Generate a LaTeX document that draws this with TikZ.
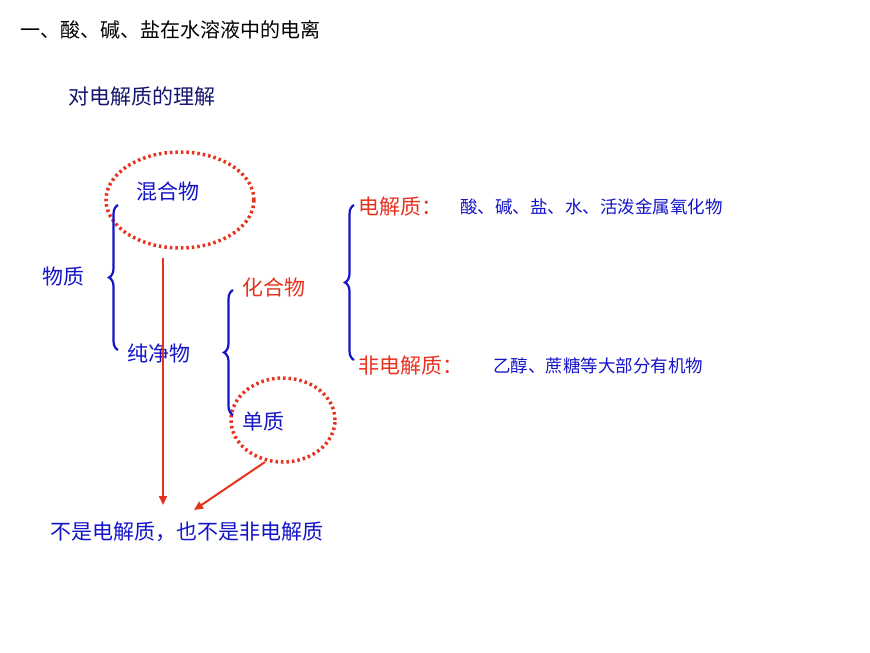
\documentclass[tikz,border=0pt]{standalone}
\usepackage{fontspec}
\setmainfont{Noto Sans CJK SC}
\usetikzlibrary{decorations.pathreplacing,arrows.meta,shapes.geometric}
\definecolor{tblue}{RGB}{20,20,200}
\definecolor{tred}{RGB}{230,50,30}
\definecolor{dblue}{RGB}{20,20,110}
\begin{document}
\begin{tikzpicture}[x=1pt,y=-1pt,
  lbl/.style={inner sep=0pt,anchor=west,font=\fontsize{21}{21}\selectfont},
  sm/.style={inner sep=0pt,anchor=west,font=\fontsize{17.5}{18}\selectfont,text=tblue},
  brc/.style={draw=tblue,line width=2.2pt,decorate,decoration={brace,amplitude=9pt,mirror}},
  dotell/.style={draw=tred,line width=3.5pt,dash pattern=on 2.5pt off 3pt},
  arr/.style={draw=tred,line width=2pt,-{Triangle[length=9pt,width=8pt]}}]
\useasboundingbox (0,0) rectangle (870,653);
\node[lbl,text=black,font=\fontsize{20}{20}\selectfont] (title) at (20,30) {一、酸、碱、盐在水溶液中的电离};
\node[lbl,text=dblue] (sub) at (68,97) {对电解质的理解};
\node[lbl,text=tblue] (mix) at (136,192) {混合物};
\node[dotell,ellipse,minimum width=148pt,minimum height=96pt] (e1) at (180,200) {};
\node[lbl,text=tblue] (wz) at (42,277) {物质};
\node[lbl,text=tblue] (pure) at (127,354) {纯净物};
\node[lbl,text=tred] (hhw) at (242,287) {化合物};
\node[lbl,text=tblue] (dz) at (242,422) {单质};
\node[dotell,ellipse,minimum width=104pt,minimum height=84pt] (e2) at (283,420) {};
\node[lbl,text=tred] (dj) at (358,207) {电解质：};
\node[sm] (djt) at (460,207) {酸、碱、盐、水、活泼金属氧化物};
\node[lbl,text=tred] (fdj) at (358,366) {非电解质：};
\node[sm] (fdjt) at (493,366) {乙醇、蔗糖等大部分有机物};
\node[lbl,text=tblue] (bottom) at (50,532) {不是电解质，也不是非电解质};
\coordinate (b1t) at (118,205); \coordinate (b1b) at (118,350);
\draw[brc] (b1t) -- (b1b);
\coordinate (b2t) at (233,290); \coordinate (b2b) at (233,415);
\draw[brc] (b2t) -- (b2b);
\coordinate (b3t) at (354,205); \coordinate (b3b) at (354,360);
\draw[brc] (b3t) -- (b3b);
\coordinate (a1s) at (163,258); \coordinate (a1e) at (163,505);
\draw[arr] (a1s) -- (a1e);
\coordinate (a2s) at (265,462); \coordinate (a2e) at (194,510);
\draw[arr] (a2s) -- (a2e);
\end{tikzpicture}
\end{document}
